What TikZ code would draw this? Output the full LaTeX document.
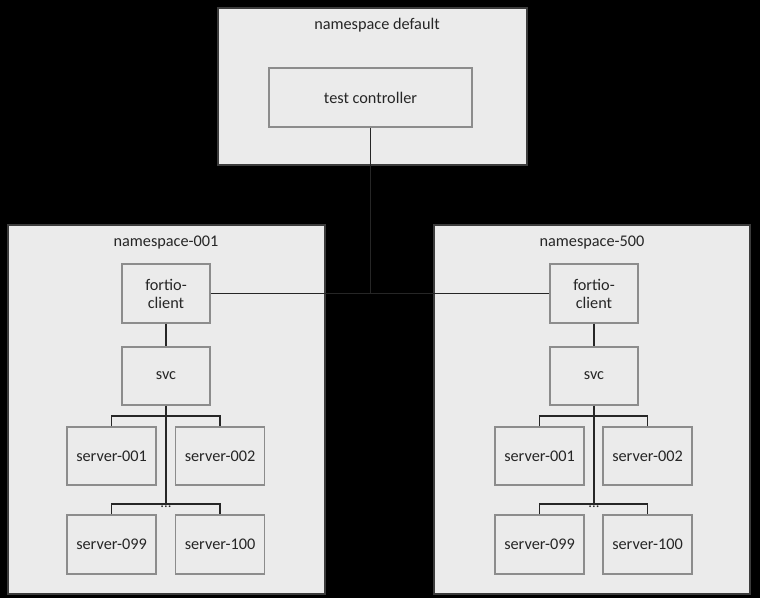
\documentclass[tikz,border=0pt]{standalone}
\usepackage{fontspec}
\setmainfont{Carlito}
\definecolor{txt}{HTML}{262626}
\definecolor{boxfill}{HTML}{EBEBEB}
\definecolor{boxline}{HTML}{8C8C8C}
\definecolor{outerline}{HTML}{3C3C3C}
\definecolor{wire}{HTML}{262626}
\tikzset{
  nsbox/.style={draw=outerline, fill=boxfill, line width=1.5pt, inner sep=0pt},
  item/.style={draw=boxline, fill=boxfill, line width=0.9pt, text=txt, align=center, inner sep=0pt,
    font=\fontsize{12.2}{13.5}\selectfont},
  title/.style={text=txt, inner sep=0pt, font=\fontsize{12.2}{13.5}\selectfont},
  wireline/.style={draw=wire, line width=1.4pt},
  dots/.style={text=txt, inner sep=0pt, font=\fontsize{11}{11}\selectfont}
}
\begin{document}
\begin{tikzpicture}[x=0.75pt,y=-0.75pt]
\fill[black] (0,0) rectangle (760,598);
\useasboundingbox (0,0) rectangle (760,598);
% outer namespaces
\node[nsbox, minimum width=309*0.75pt, minimum height=157*0.75pt] (nsdef) at (372.5,86.5) {};
\node[nsbox, minimum width=317*0.75pt, minimum height=369*0.75pt] (ns1) at (166.5,409.5) {};
\node[nsbox, minimum width=316*0.75pt, minimum height=369*0.75pt] (ns5) at (592,409.5) {};
\node[title] (tdef) at (377,25) {namespace default};
\node[title] (t1) at (166,243) {namespace-001};
\node[title] (t5) at (592,243) {namespace-500};
% test controller
\node[item, minimum width=203*0.75pt, minimum height=59*0.75pt] (tc) at (370.5,97.5) {test controller};
% left namespace
\node[item, minimum width=88*0.75pt, minimum height=59*0.75pt] (fc1) at (166,293.5) {fortio-\\client};
\node[item, minimum width=88*0.75pt, minimum height=58*0.75pt] (svc1) at (166,376) {svc};
\node[item, minimum width=89*0.75pt, minimum height=58*0.75pt] (a1) at (111.5,456) {server-001};
\node[item, minimum width=89*0.75pt, minimum height=58*0.75pt] (a2) at (220,456) {server-002};
\node[item, minimum width=89*0.75pt, minimum height=59*0.75pt] (a99) at (111.5,544.5) {server-099};
\node[item, minimum width=89*0.75pt, minimum height=59*0.75pt] (a100) at (220,544.5) {server-100};
% right namespace
\node[item, minimum width=88*0.75pt, minimum height=59*0.75pt] (fc5) at (594,293.5) {fortio-\\client};
\node[item, minimum width=88*0.75pt, minimum height=58*0.75pt] (svc5) at (594,376) {svc};
\node[item, minimum width=89*0.75pt, minimum height=58*0.75pt] (b1) at (539.5,456) {server-001};
\node[item, minimum width=89*0.75pt, minimum height=58*0.75pt] (b2) at (647.5,456) {server-002};
\node[item, minimum width=89*0.75pt, minimum height=59*0.75pt] (b99) at (539.5,544.5) {server-099};
\node[item, minimum width=89*0.75pt, minimum height=59*0.75pt] (b100) at (647.5,544.5) {server-100};
% bus coordinates
\coordinate (la) at (166,416);
\coordinate (lb) at (166,504);
\coordinate (ra) at (594,416);
\coordinate (rb) at (594,504);
% connectors
\draw[wireline] (tc.south) -- (tc.south |- fc1.east);
\draw[wireline] (fc1.east) -- (fc5.west);
\draw[wireline] (fc1.south) -- (svc1.north);
\draw[wireline] (fc5.south) -- (svc5.north);
\draw[wireline] (svc1.south) -- (lb);
\draw[wireline] (a1.north) |- (la) -| (a2.north);
\draw[wireline] (a99.north) |- (lb) -| (a100.north);
\draw[wireline] (svc5.south) -- (rb);
\draw[wireline] (b1.north) |- (ra) -| (b2.north);
\draw[wireline] (b99.north) |- (rb) -| (b100.north);
\node[dots, anchor=base] (ldots) at (166,507.5) {...};
\node[dots, anchor=base] (rdots) at (594,507.5) {...};
\end{tikzpicture}
\end{document}
